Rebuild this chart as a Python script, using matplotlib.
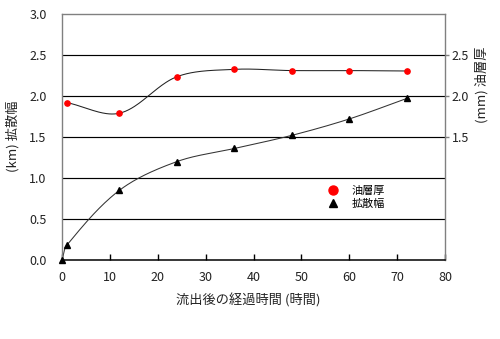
import numpy as np
import matplotlib
matplotlib.use("Agg")
import matplotlib.pyplot as plt
from matplotlib.lines import Line2D

plt.rcParams['font.family'] = ['Noto Sans CJK JP', 'DejaVu Sans']

# elapsed hours after the spill
hours_oil = [1, 12, 24, 36, 48, 60, 72]
oil_thickness = [1.92, 1.79, 2.235, 2.325, 2.31, 2.31, 2.305]   # mm

hours_spread = [0, 1, 12, 24, 36, 48, 60, 72]
spread_width = [0.0, 0.18, 0.85, 1.20, 1.36, 1.52, 1.72, 1.97]  # km

x_ticks = [0, 10, 20, 30, 40, 50, 60, 70, 80]
y_ticks = [0.0, 0.5, 1.0, 1.5, 2.0, 2.5, 3.0]
y2_ticks = [1.5, 2.0, 2.5]

label_x = "流出後の経過時間 (時間)"
label_y = "(km) 拡散幅"
label_y2 = "(mm) 油層厚"
legend_labels = ["油層厚", "拡散幅"]

W, H = 500, 339
fig = plt.figure(figsize=(W / 100, H / 100), dpi=100)
ax = fig.add_axes([62 / W, (H - 260) / H, (445 - 62) / W, (260 - 14) / H])
ax.set_xlim(0, 80)
ax.set_ylim(0, 3.0)


def smooth_curve(ax, xs, ys, n=40):
    """Bezier smoothing (Catmull-Rom style) computed in display space."""
    pts = ax.transData.transform(np.column_stack([xs, ys]).astype(float))
    m = len(pts)
    tang = []
    for i in range(m):
        a = pts[max(i - 1, 0)]
        b = pts[min(i + 1, m - 1)]
        d = np.linalg.norm(pts[i] - a) + np.linalg.norm(b - pts[i])
        tang.append((b - a) / d if d > 0 else np.zeros(2))
    out = []
    t = np.linspace(0, 1, n)[:, None]
    for i in range(m - 1):
        p1, p2 = pts[i], pts[i + 1]
        L = np.linalg.norm(p2 - p1)
        c1 = p1 + tang[i] * L / 3
        c2 = p2 - tang[i + 1] * L / 3
        seg = (1 - t) ** 3 * p1 + 3 * (1 - t) ** 2 * t * c1 + 3 * (1 - t) * t ** 2 * c2 + t ** 3 * p2
        out.append(seg if i == 0 else seg[1:])
    res = ax.transData.inverted().transform(np.vstack(out))
    return res[:, 0], res[:, 1]


# horizontal grid
for yv in y_ticks[1:-1]:
    ax.axhline(yv, color='black', lw=0.85, zorder=1)

sx, sy = smooth_curve(ax, hours_oil, oil_thickness)
ax.plot(sx, sy, color='#222222', lw=0.75, zorder=2)
ax.plot(hours_oil, oil_thickness, 'o', color='#ff0000', ms=3.8, mec='#ff0000', zorder=3)

sx, sy = smooth_curve(ax, hours_spread, spread_width)
ax.plot(sx, sy, color='#333333', lw=0.75, zorder=2)
ax.plot(hours_spread, spread_width, '^', color='black', ms=5, zorder=3, clip_on=False)

# spines
for side in ['left', 'top', 'right']:
    ax.spines[side].set_color('#808080')
    ax.spines[side].set_linewidth(1.0)
ax.spines['bottom'].set_color('black')
ax.spines['bottom'].set_linewidth(1.1)

ax.set_xticks(x_ticks)
ax.set_xticklabels([str(v) for v in x_ticks], fontsize=9, color='#222222')
ax.tick_params(axis='x', direction='in', length=4, width=1, pad=8, color='black')
ax.set_yticks(y_ticks)
ax.set_yticklabels([f"{v:.1f}" for v in y_ticks], fontsize=9, color='#222222')
ax.tick_params(axis='y', length=0, pad=11)

ax2 = ax.twinx()
ax2.set_ylim(ax.get_ylim())
ax2.set_yticks(y2_ticks)
ax2.set_yticklabels([f"{v:.1f}" for v in y2_ticks], fontsize=9, color='#222222')
ax2.tick_params(axis='y', direction='out', length=3, width=1, pad=2, color='#808080')
for side in ['left', 'top', 'right', 'bottom']:
    ax2.spines[side].set_visible(False)

fig.text(248 / W, 1 - 300 / H, label_x, ha='center', va='center', fontsize=9.5, color='#222222')
fig.text(13 / W, 1 - 136 / H, label_y, ha='center', va='center', rotation=90, fontsize=9.5, color='#222222')
fig.text(482 / W, 1 - 85 / H, label_y2, ha='center', va='center', rotation=90, fontsize=9.5, color='#222222')

handles = [Line2D([], [], ls='none', marker='o', color='#ff0000', ms=6.5),
           Line2D([], [], ls='none', marker='^', color='black', ms=6)]
ax.legend(handles, legend_labels, loc='center left', bbox_to_anchor=(322 / W, 1 - 197.5 / H),
          bbox_transform=fig.transFigure, frameon=False, fontsize=8, handlelength=1.0,
          handletextpad=1.2, labelspacing=0.25, borderpad=0)

fig.savefig("out.png", dpi=100, facecolor='white')
